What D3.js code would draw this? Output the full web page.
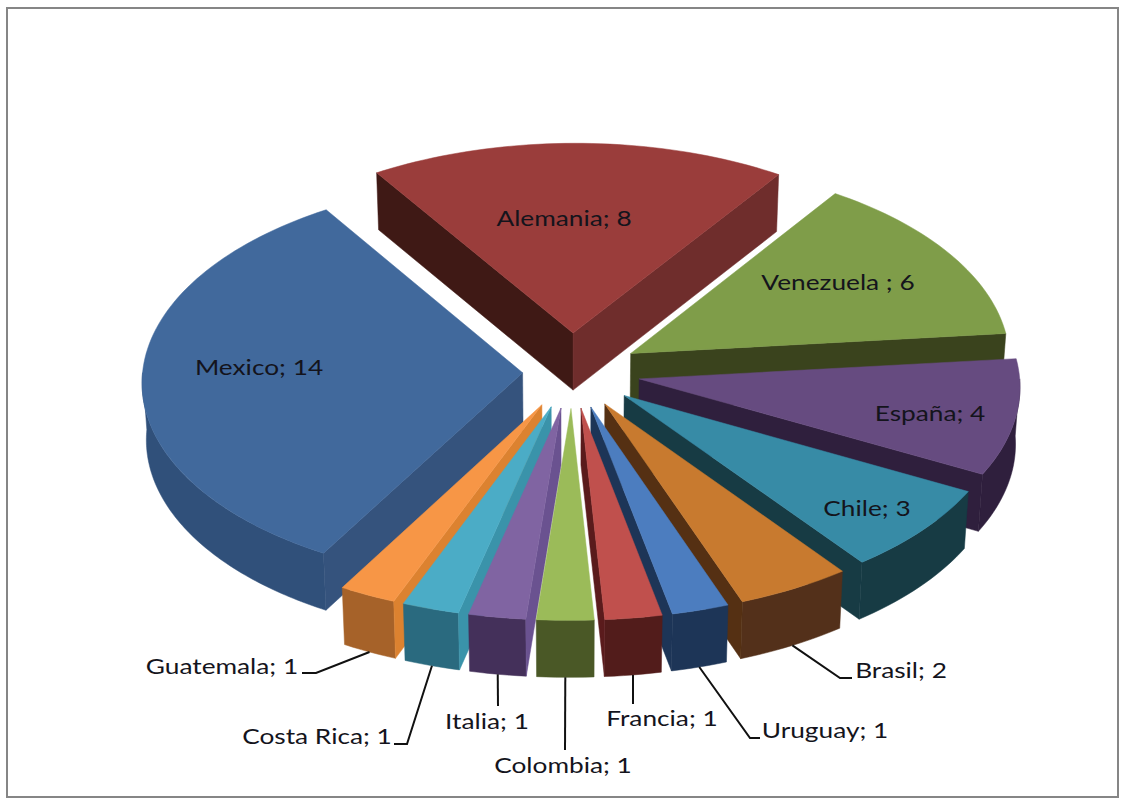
<!DOCTYPE html>
<html>
<head>
<meta charset="utf-8">
<script src="https://cdn.jsdelivr.net/npm/d3@7"></script>
<style>
html,body{margin:0;padding:0;background:#fff;}
svg{display:block;}
text{font-family:Lato,"Open Sans",sans-serif;font-size:21px;fill:#14141c;}
</style>
</head>
<body>
<svg id="chart" width="1126" height="805"></svg>
<script>
const categories = ["Mexico","Alemania","Venezuela ","España","Chile","Brasil","Uruguay","Francia","Colombia","Italia","Costa Rica","Guatemala"];
const values = [14,8,6,4,3,2,1,1,1,1,1,1];

const topColors   = ["#41699C","#9A3D3B","#7F9D49","#664B80","#378BA6","#C87A2F","#4C7DBF","#C0504D","#9BBB59","#8064A2","#4BACC6","#F79646"];
const outerColors = ["#30507A","#5E2423","#3A431D","#2F1F3D","#173B44","#53301A","#1D3557","#521C1B","#4A5826","#44305A","#2A6A7F","#A66229"];
const darkWalls   = ["#30507A","#3F1915","#3A431D","#2F1F3D","#173B44","#553013","#1D3557","#5A1B1C","#4A5826","#44305A","#2A6A7F","#A66229"];
const lightWalls  = ["#35537D","#6F2D2C","#3A431D","#4A3863","#236C80","#9B5E24","#3A6294","#95403E","#7A9346","#6A5290","#3A93AA","#DC8230"];
const explosion   = [0.13,0.195,0.18,0.18,0.18,0.18,0.18,0.18,0.18,0.18,0.18,0.18];

const labelLayout = {
  "Mexico":{x:259,y:370},
  "Alemania":{x:564,y:221},
  "Venezuela ":{x:838,y:285},
  "España":{x:930,y:416},
  "Chile":{x:867,y:511},
  "Brasil":{x:901,y:673,leader:[[840,678],[852,678]]},
  "Uruguay":{x:825,y:733,leader:[[750,738],[760,738]]},
  "Francia":{x:662,y:721,leader:[[633,704]]},
  "Colombia":{x:563,y:768,leader:[[565,750]]},
  "Italia":{x:487,y:724,leader:[[498,706]]},
  "Costa Rica":{x:317,y:739,leader:[[407,744],[394,744]]},
  "Guatemala":{x:222,y:669,leader:[[316,673],[302,673]]}
};

const cx = 572, cy = 372, perspective = 0.04, skew = 0.006, wallDrop = 57, wallShrink = 0.99, textStretch = 1.25;
const xScale = d3.scaleLinear().domain([-1,1]).range([cx-380,cx+380]);
const yScale = d3.scaleLinear().domain([-1,1]).range([cy+201,cy-201]);

const startDeg = -150.2;
const pie = d3.pie().value(d=>d).sort(null)
  .startAngle(startDeg*Math.PI/180).endAngle((startDeg+360)*Math.PI/180);
const arcs = pie(values);

function project(a, rho, e, mid, bottom){
  const X = e*Math.sin(mid)+rho*Math.sin(a);
  const Y = e*Math.cos(mid)+rho*Math.cos(a);
  const s = 1-perspective*Y;
  let x = xScale(X*s+skew*Y), y = yScale(Y*s);
  if(bottom){ x = cx+(x-cx)*wallShrink; y += wallDrop; }
  return [x,y];
}

const svg = d3.select("#chart");
svg.append("rect").attr("x",7).attr("y",8).attr("width",1111).attr("height",789)
  .attr("fill","#fff").attr("stroke","#868686").attr("stroke-width",2);

const line = d3.line();
const slices = arcs.map((d,i)=>({d,i,mid:(d.startAngle+d.endAngle)/2,e:explosion[i],name:categories[i],value:values[i]}));
const order = slices.slice().sort((a,b)=>Math.cos(b.mid)-Math.cos(a.mid));

// the part of [lo,hi] that faces the viewer (cos(a) < 0)
function frontRange(lo,hi){
  const ranges = [[-1.5*Math.PI,-0.5*Math.PI],[0.5*Math.PI,1.5*Math.PI]];
  for(const r of ranges){
    const a = Math.max(lo,r[0]), b = Math.min(hi,r[1]);
    if(b>a) return [a,b];
  }
  return null;
}

const g = svg.append("g");
order.forEach(s=>{
  const {d,i,mid,e} = s;
  const n = Math.max(6,Math.ceil((d.endAngle-d.startAngle)*40));
  const sweep = (lo,hi)=>d3.range(n+1).map(k=>lo+(hi-lo)*k/n);
  const pt = (a,rho,b)=>project(a,rho,e,mid,b);
  const radial = (a,normal)=>{
    if(Math.cos(normal)>=0) return;
    const color = Math.sin(normal)<0 ? darkWalls[i] : lightWalls[i];
    g.append("path")
      .attr("d",line([pt(a,0,false),pt(a,1,false),pt(a,1,true),pt(a,0,true)])+"Z")
      .attr("fill",color).attr("stroke",color).attr("stroke-width",0.5);
  };
  const front = frontRange(d.startAngle,d.endAngle);
  if(front){
    const angles = sweep(front[0],front[1]);
    g.append("path")
      .attr("d",line(angles.map(a=>pt(a,1,false)).concat(angles.slice().reverse().map(a=>pt(a,1,true))))+"Z")
      .attr("fill",outerColors[i]).attr("stroke",outerColors[i]).attr("stroke-width",0.5);
  }
  radial(d.startAngle,d.startAngle-Math.PI/2);
  radial(d.endAngle,d.endAngle+Math.PI/2);
  g.append("path")
    .attr("d",line([pt(d.startAngle,0,false)].concat(sweep(d.startAngle,d.endAngle).map(a=>pt(a,1,false))))+"Z")
    .attr("fill",topColors[i]).attr("stroke",topColors[i]).attr("stroke-width",0.5);
});

const lab = svg.append("g");
slices.forEach(s=>{
  const l = labelLayout[s.name];
  if(l.leader){
    const anchor = project(s.mid,1,s.e,s.mid,true);
    lab.append("path").attr("d",line([anchor].concat(l.leader)))
      .attr("fill","none").attr("stroke","#111").attr("stroke-width",2);
  }
  lab.append("text").attr("transform",`translate(${l.x},${l.y}) scale(${textStretch},1)`)
    .attr("text-anchor","middle").attr("dominant-baseline","middle").text(s.name+"; "+s.value);
});
</script>
</body>
</html>
